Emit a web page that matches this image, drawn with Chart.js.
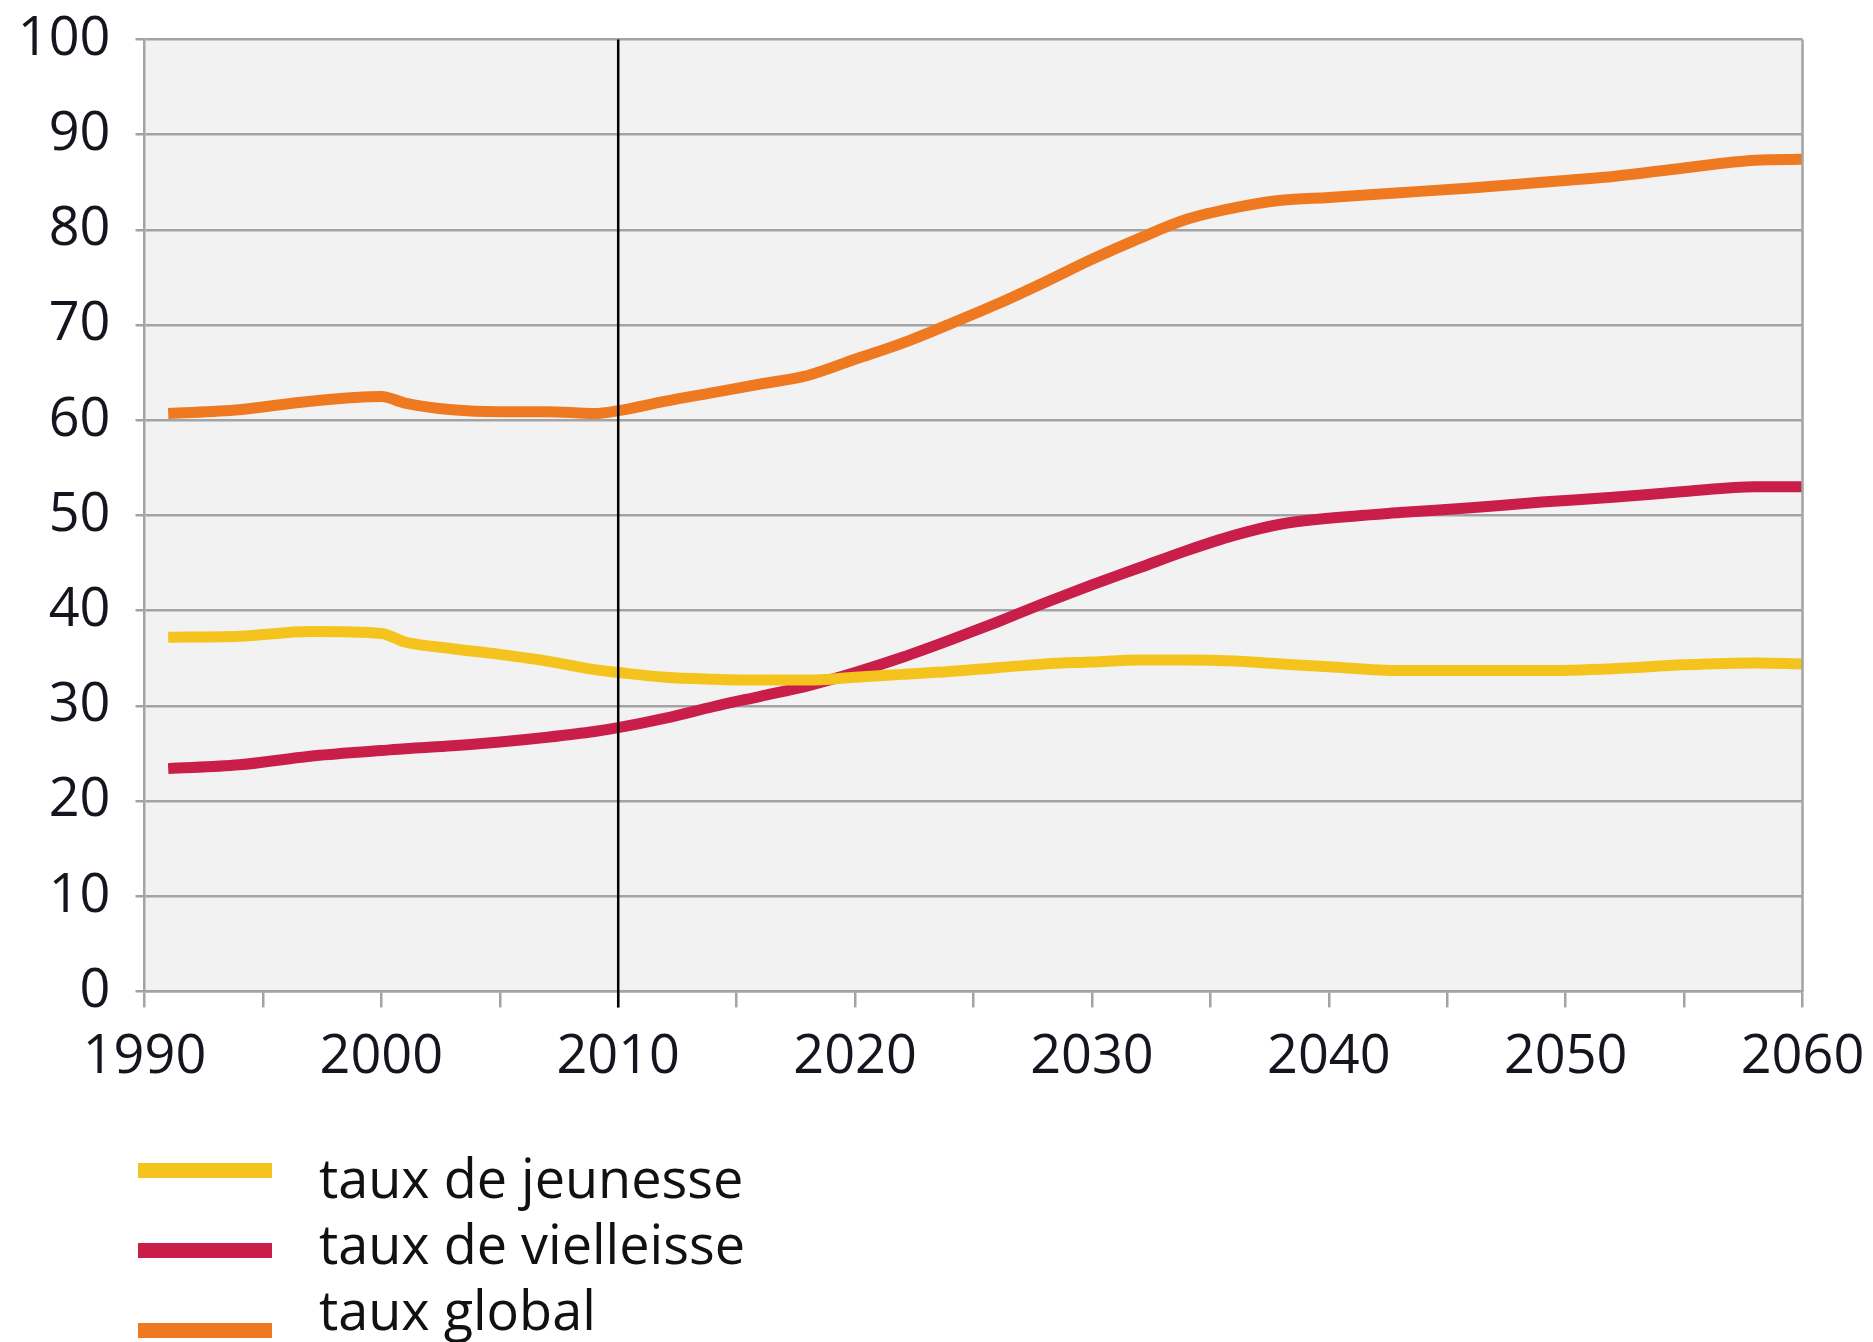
<!DOCTYPE html>
<html>
<head>
<meta charset="utf-8">
<script src="https://cdn.jsdelivr.net/npm/chart.js@4/dist/chart.umd.min.js"></script>
<style>
    html, body { margin: 0; padding: 0; background: #fff; }
    #wrap { position: relative; width: 1873px; height: 1342px; overflow: hidden; }
    #chart { position: absolute; left: 0; top: 0; }
    .legendMarker { position: absolute; left: 138px; width: 134px; height: 15px; }
    .legendText { position: absolute; left: 319px; font-family: 'Open Sans', sans-serif; font-size: 54px; line-height: 64px; color: #111; white-space: nowrap; }
</style>
</head>
<body>
<div id="wrap">
    <canvas id="chart" width="1873" height="1120" style="width:1873px;height:1120px"></canvas>
    <div id="legend"></div>
</div>
<script>
const years = [1991, 1994, 1997, 2000, 2001, 2003, 2005, 2007, 2009, 2010, 2012, 2014, 2016, 2018, 2020, 2022, 2024, 2026, 2028, 2030, 2032, 2034, 2036, 2038, 2040, 2043, 2046, 2049, 2052, 2055, 2058, 2060];

const tauxJeunesse = [37.2, 37.3, 37.8, 37.6, 36.7, 36.0, 35.4, 34.7, 33.8, 33.5, 33.0, 32.8, 32.7, 32.7, 33.0, 33.3, 33.6, 34.0, 34.4, 34.6, 34.8, 34.8, 34.7, 34.4, 34.1, 33.7, 33.7, 33.7, 33.9, 34.3, 34.5, 34.4];
const tauxVieillesse = [23.4, 23.8, 24.7, 25.3, 25.5, 25.8, 26.2, 26.7, 27.3, 27.7, 28.7, 29.9, 31.0, 32.1, 33.5, 35.1, 36.9, 38.8, 40.8, 42.7, 44.5, 46.3, 47.9, 49.1, 49.7, 50.3, 50.8, 51.4, 51.9, 52.5, 53.0, 53.0];
const tauxGlobal = [60.7, 61.1, 62.0, 62.5, 61.8, 61.1, 60.9, 60.9, 60.7, 61.0, 62.0, 62.9, 63.8, 64.7, 66.4, 68.1, 70.1, 72.2, 74.5, 76.9, 79.1, 81.1, 82.3, 83.1, 83.4, 83.9, 84.4, 85.0, 85.6, 86.5, 87.3, 87.4];

const seriesLabels = ['taux de jeunesse', 'taux de vielleisse', 'taux global'];
const seriesColors = ['#f5c31e', '#c91d4a', '#ef7920'];

const xMin = 1990;
const xMax = 2060;
const xStep = 5;
const xLabelStep = 10;
const yMin = 0;
const yMax = 100;
const yStep = 10;
const markerYear = 2010;

const gridColor = '#a3a3a3';
const tickFont = { family: "'Open Sans', sans-serif", size: 54 };

const toPoints = (values) => values.map((v, i) => ({ x: years[i], y: v }));

// label overflow is already covered by layout.padding
const noScalePadding = (scale) => {
    scale.paddingTop = 0;
    scale.paddingBottom = 0;
    scale.paddingLeft = 0;
    scale.paddingRight = 0;
};

const plotDecor = {
    id: 'plotDecor',
    beforeDraw(chart) {
        const { ctx, chartArea: a } = chart;
        ctx.save();
        ctx.fillStyle = '#f2f2f2';
        ctx.fillRect(a.left, a.top, a.right - a.left, a.bottom - a.top);
        ctx.restore();
    },
    afterDatasetsDraw(chart) {
        const { ctx, chartArea: a, scales } = chart;
        ctx.save();
        // right border of the plot
        ctx.strokeStyle = gridColor;
        ctx.lineWidth = 2.5;
        ctx.beginPath();
        ctx.moveTo(a.right, a.top);
        ctx.lineTo(a.right, a.bottom);
        ctx.stroke();
        // black marker at 2010
        const x = scales.x.getPixelForValue(markerYear);
        ctx.strokeStyle = '#000';
        ctx.lineWidth = 2.5;
        ctx.beginPath();
        ctx.moveTo(x, a.top);
        ctx.lineTo(x, a.bottom + 16);
        ctx.stroke();
        ctx.restore();
    },
};

const chart = new Chart(document.getElementById('chart'), {
    type: 'line',
    data: {
        datasets: [tauxJeunesse, tauxVieillesse, tauxGlobal].map((values, i) => ({
            label: seriesLabels[i],
            data: toPoints(values),
            borderColor: seriesColors[i],
            backgroundColor: seriesColors[i],
            borderWidth: 11,
            pointRadius: 0,
            cubicInterpolationMode: 'monotone',
            borderCapStyle: 'butt',
            borderJoinStyle: 'round',
        })),
    },
    options: {
        responsive: false,
        animation: false,
        devicePixelRatio: 1,
        layout: { padding: { left: 0, right: 70.5, top: 39.4, bottom: 28.6 } },
        scales: {
            x: {
                type: 'linear',
                min: xMin,
                max: xMax,
                ticks: {
                    stepSize: xStep,
                    autoSkip: false,
                    maxRotation: 0,
                    padding: 18,
                    color: '#15151f',
                    font: tickFont,
                    callback: (v) => (v % xLabelStep === 0 ? String(v) : ''),
                },
                grid: {
                    drawOnChartArea: false,
                    drawTicks: true,
                    tickLength: 16,
                    color: gridColor,
                    lineWidth: 2.5,
                },
                border: { display: true, color: gridColor, width: 2.5 },
                afterFit: (scale) => {
                    scale.height = 100;
                    noScalePadding(scale);
                },
            },
            y: {
                min: yMin,
                max: yMax,
                ticks: {
                    stepSize: yStep,
                    padding: 25,
                    color: '#15151f',
                    font: tickFont,
                },
                grid: {
                    color: gridColor,
                    lineWidth: 2.5,
                    tickLength: 9,
                },
                border: { display: true, color: gridColor, width: 2.5 },
                afterFit: (scale) => {
                    scale.width = 144.5;
                    noScalePadding(scale);
                },
            },
        },
        plugins: {
            legend: { display: false },
            tooltip: { enabled: false },
        },
    },
    plugins: [plotDecor],
});

// legend below the chart, built from the datasets
const legend = document.getElementById('legend');
chart.data.datasets.forEach((ds, i) => {
    const marker = Object.assign(document.createElement('div'), { className: 'legendMarker' });
    marker.style.top = `${1163 + i * 80}px`;
    marker.style.background = ds.borderColor;
    const text = Object.assign(document.createElement('div'), { className: 'legendText', innerText: ds.label });
    text.style.top = `${1145 + i * 66}px`;
    legend.append(marker, text);
});
</script>
</body>
</html>
